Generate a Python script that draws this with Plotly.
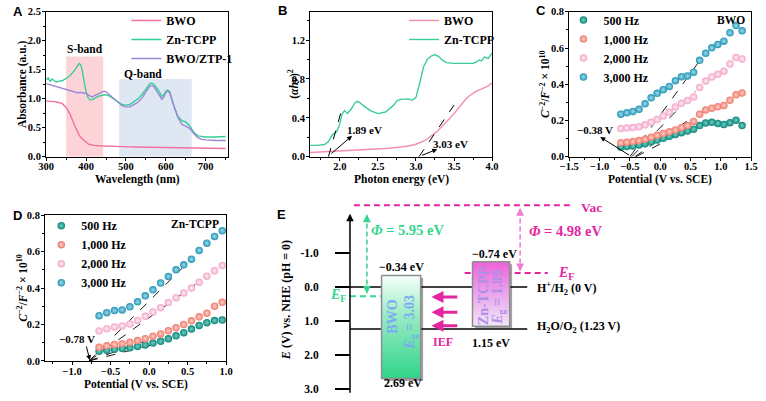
import plotly.graph_objects as go

W, H = 766, 401
SERIF = "Liberation Serif"
SANS = "Liberation Sans"


def px(x):
    return x / W


def py(y):
    return 1 - y / H


# ---------------- Panel A : UV-vis absorbance ----------------
wavelength = [300, 305, 310, 315, 320, 325, 330, 340, 350, 360, 370, 375, 380, 383, 387, 390, 395, 400,
              405, 410, 415, 420, 430, 440, 445, 450, 460, 470, 480, 490, 500, 510, 520, 530, 540, 550,
              560, 565, 570, 580, 590, 595, 600, 605, 610, 620, 630, 640, 650, 660, 670, 680, 690, 700,
              725, 750]
abs_bwo = [0.96, 0.96, 0.95, 0.95, 0.95, 0.945, 0.94, 0.92, 0.85, 0.73, 0.56, 0.48, 0.41, 0.37, 0.33, 0.31,
           0.27, 0.24, 0.22, 0.21, 0.20, 0.195, 0.19, 0.186, 0.184, 0.182, 0.180, 0.178, 0.176, 0.174,
           0.172, 0.170, 0.169, 0.168, 0.167, 0.166, 0.165, 0.164, 0.164, 0.163, 0.162, 0.161, 0.160,
           0.160, 0.159, 0.158, 0.157, 0.156, 0.155, 0.154, 0.152, 0.151, 0.150, 0.149, 0.146, 0.143]
abs_zn_tcpp = [1.33, 1.36, 1.30, 1.34, 1.31, 1.29, 1.30, 1.31, 1.35, 1.40, 1.48, 1.54, 1.60, 1.61, 1.58,
               1.50, 1.30, 1.12, 1.02, 0.98, 0.98, 1.00, 1.04, 1.06, 1.07, 1.07, 1.04, 0.99, 0.94, 0.90,
               0.89, 0.90, 0.95, 1.00, 1.07, 1.17, 1.26, 1.27, 1.25, 1.16, 1.04, 1.07, 1.13, 1.15, 1.12,
               0.88, 0.70, 0.62, 0.60, 0.53, 0.42, 0.36, 0.345, 0.34, 0.34, 0.35]
abs_bwo_ztp1 = [1.26, 1.25, 1.24, 1.23, 1.22, 1.21, 1.20, 1.18, 1.15, 1.13, 1.11, 1.10, 1.10, 1.11, 1.11,
                1.11, 1.10, 1.09, 1.07, 1.04, 1.03, 1.05, 1.08, 1.11, 1.13, 1.12, 1.06, 0.99, 0.93, 0.88,
                0.86, 0.86, 0.90, 0.94, 1.01, 1.12, 1.22, 1.23, 1.21, 1.10, 0.99, 1.03, 1.11, 1.13, 1.10,
                0.88, 0.68, 0.56, 0.52, 0.49, 0.40, 0.33, 0.30, 0.29, 0.28, 0.28]
s_band_range = [350, 443]
s_band_top = 1.73
q_band_range = [483, 665]
q_band_top = 1.34

# ---------------- Panel B : Tauc plot ----------------
tauc_bwo_energy = [1.6, 1.8, 2.0, 2.2, 2.4, 2.6, 2.8, 2.9, 3.0, 3.05, 3.1, 3.15, 3.2, 3.25, 3.3, 3.35, 3.4,
                   3.45, 3.5, 3.55, 3.6, 3.65, 3.7, 3.75, 3.8, 3.85, 3.9, 3.95, 4.0]
tauc_bwo = [0.043, 0.050, 0.058, 0.066, 0.075, 0.085, 0.100, 0.110, 0.128, 0.142, 0.160, 0.185, 0.212,
            0.243, 0.277, 0.315, 0.358, 0.400, 0.443, 0.493, 0.540, 0.588, 0.625, 0.655, 0.677, 0.693,
            0.707, 0.728, 0.760]
tauc_zn_energy = [1.6, 1.7, 1.8, 1.85, 1.9, 1.93, 1.96, 2.0, 2.03, 2.06, 2.1, 2.15, 2.2, 2.23, 2.26, 2.3,
                  2.35, 2.4, 2.5, 2.6, 2.7, 2.75, 2.8, 2.9, 2.95, 3.0, 3.05, 3.1, 3.15, 3.2, 3.25, 3.3,
                  3.35, 3.4, 3.5, 3.6, 3.7, 3.75, 3.8, 3.83, 3.86, 3.9, 3.95, 4.0]
tauc_zn = [0.117, 0.117, 0.125, 0.155, 0.225, 0.245, 0.26, 0.34, 0.44, 0.475, 0.445, 0.49, 0.555, 0.57,
           0.56, 0.53, 0.50, 0.475, 0.443, 0.46, 0.525, 0.575, 0.59, 0.595, 0.58, 0.61, 0.76, 0.925, 1.0,
           1.035, 1.05, 1.03, 0.99, 0.968, 0.96, 0.96, 0.955, 0.96, 0.975, 0.995, 0.985, 1.025, 1.01,
           1.065]
band_gap_zn = 1.89
band_gap_bwo = 3.03
tauc_fit_zn_x = [1.85, 2.03]
tauc_fit_zn_y = [0.0, 0.50]
tauc_fit_bwo_x = [3.04, 3.50]
tauc_fit_bwo_y = [0.0, 0.53]

# ---------------- Panel C : Mott-Schottky, BWO ----------------
frequencies = ["500 Hz", "1,000 Hz", "2,000 Hz", "3,000 Hz"]
ms_potential_bwo = [-0.65, -0.55, -0.45, -0.35, -0.25, -0.15, -0.05, 0.05, 0.15, 0.25, 0.35, 0.45, 0.55,
                    0.65, 0.75, 0.85, 0.95, 1.05, 1.15, 1.25, 1.35]
ms_bwo_500 = [0.052, 0.056, 0.059, 0.065, 0.072, 0.082, 0.092, 0.102, 0.113, 0.123, 0.133, 0.142, 0.152,
              0.172, 0.186, 0.190, 0.184, 0.178, 0.188, 0.202, 0.172]
ms_bwo_1000 = [0.077, 0.080, 0.084, 0.089, 0.097, 0.107, 0.118, 0.128, 0.138, 0.148, 0.160, 0.172, 0.195,
               0.235, 0.258, 0.268, 0.276, 0.283, 0.312, 0.342, 0.352]
ms_bwo_2000 = [0.156, 0.158, 0.161, 0.165, 0.176, 0.190, 0.205, 0.225, 0.245, 0.275, 0.295, 0.310, 0.330,
               0.382, 0.418, 0.440, 0.455, 0.472, 0.512, 0.548, 0.540]
ms_bwo_3000 = [0.235, 0.243, 0.250, 0.262, 0.292, 0.325, 0.350, 0.370, 0.388, 0.420, 0.442, 0.446, 0.467,
               0.532, 0.571, 0.601, 0.620, 0.638, 0.684, 0.724, 0.695]
ms_bwo_fit_x = [[-0.40, 0.45], [-0.42, 0.50], [-0.47, 0.58], [-0.50, 0.65]]
ms_bwo_fit_y = [[0.0, 0.15], [0.0, 0.21], [0.0, 0.36], [0.0, 0.53]]
flat_band_bwo = -0.38

# ---------------- Panel D : Mott-Schottky, Zn-TCPP ----------------
ms_potential_zn = [-0.65, -0.55, -0.45, -0.35, -0.25, -0.15, -0.05, 0.05, 0.15, 0.25, 0.35, 0.45, 0.55,
                   0.65, 0.75, 0.85, 0.95]
ms_zn_500 = [0.053, 0.059, 0.064, 0.068, 0.073, 0.079, 0.088, 0.098, 0.108, 0.122, 0.138, 0.155, 0.175,
             0.195, 0.210, 0.222, 0.224]
ms_zn_1000 = [0.075, 0.083, 0.090, 0.095, 0.102, 0.112, 0.122, 0.135, 0.148, 0.165, 0.182, 0.200, 0.220,
              0.242, 0.262, 0.300, 0.322]
ms_zn_2000 = [0.164, 0.177, 0.186, 0.192, 0.203, 0.222, 0.245, 0.268, 0.292, 0.320, 0.347, 0.372, 0.400,
              0.432, 0.465, 0.495, 0.523]
ms_zn_3000 = [0.248, 0.265, 0.276, 0.280, 0.297, 0.324, 0.357, 0.390, 0.427, 0.463, 0.500, 0.527, 0.558,
              0.606, 0.646, 0.683, 0.714]
ms_zn_fit_x = [[-0.78, 0.10], [-0.78, 0.05], [-0.78, 0.60], [-0.78, 0.55]]
ms_zn_fit_y = [[0.0, 0.095], [0.0, 0.125], [0.0, 0.42], [0.0, 0.56]]
flat_band_zn = -0.78

# ---------------- Panel E : band diagram (energies vs NHE) ----------------
bwo_band_edges = [-0.34, 2.69]      # CB, VB
zn_band_edges = [-0.74, 1.15]       # LUMO, HOMO
redox_levels = [0.0, 1.23]          # H+/H2, H2O/O2
work_functions = [5.95, 4.98]       # BWO, Zn-TCPP
# schematic drawing levels on the energy axis
vac_level = -2.4
fermi_levels_drawn = [0.27, -0.41]  # BWO, Zn-TCPP
ief_levels = [0.29, 0.74, 1.14]
e_ticks = [-1, 0, 1, 2, 3]
e_tick_text = ["-1.0", "0.0", "1.0", "2.0", "3.0"]

# ---------------- styles ----------------
C_BWO = "#f3709f"
C_ZN = "#33cf98"
C_MIX = "#9c86d8"
C_BWO_B = "#f28db0"
C_ZN_B = "#3ccd92"
freq_colors = ["#0f8478", "#ef7b6e", "#f3a6c9", "#2595b3"]
freq_lights = ["#6ed3c3", "#ffd0c8", "#fff0f6", "#9fdcef"]
MAG = "#e4259f"
GRN = "#35d58f"
PINK = "#f17ed5"

fig = go.Figure()

# Panel A
for ys, name, col in [(abs_bwo, "BWO", C_BWO), (abs_zn_tcpp, "Zn-TCPP", C_ZN), (abs_bwo_ztp1, "BWO/ZTP-1", C_MIX)]:
    fig.add_trace(go.Scatter(x=wavelength, y=ys, mode="lines", name=name, line=dict(color=col, width=1.4),
                             xaxis="x", yaxis="y", legend="legend", hoverinfo="skip"))

# Panel B
fig.add_trace(go.Scatter(x=tauc_bwo_energy, y=tauc_bwo, mode="lines", name="BWO",
                         line=dict(color=C_BWO_B, width=1.4), xaxis="x2", yaxis="y2", legend="legend2"))
fig.add_trace(go.Scatter(x=tauc_zn_energy, y=tauc_zn, mode="lines", name="Zn-TCPP",
                         line=dict(color=C_ZN_B, width=1.4), xaxis="x2", yaxis="y2", legend="legend2"))
for fx, fy in [(tauc_fit_zn_x, tauc_fit_zn_y), (tauc_fit_bwo_x, tauc_fit_bwo_y)]:
    fig.add_trace(go.Scatter(x=fx, y=fy, mode="lines", showlegend=False,
                             line=dict(color="black", width=1, dash="dash"), xaxis="x2", yaxis="y2"))

# Panel C
for i, ys in enumerate([ms_bwo_500, ms_bwo_1000, ms_bwo_2000, ms_bwo_3000]):
    fig.add_trace(go.Scatter(x=ms_bwo_fit_x[i], y=ms_bwo_fit_y[i], mode="lines", showlegend=False,
                             line=dict(color="black", width=0.9, dash="dash"), xaxis="x3", yaxis="y3"))
for i, ys in enumerate([ms_bwo_500, ms_bwo_1000, ms_bwo_2000, ms_bwo_3000]):
    fig.add_trace(go.Scatter(x=ms_potential_bwo, y=ys, mode="markers", name=frequencies[i],
                             marker=dict(size=7.5, color=freq_colors[i], line=dict(width=0),
                                         gradient=dict(type="radial", color=freq_lights[i])),
                             xaxis="x3", yaxis="y3", legend="legend3"))

# Panel D
for i, ys in enumerate([ms_zn_500, ms_zn_1000, ms_zn_2000, ms_zn_3000]):
    fig.add_trace(go.Scatter(x=ms_zn_fit_x[i], y=ms_zn_fit_y[i], mode="lines", showlegend=False,
                             line=dict(color="black", width=0.9, dash="dash"), xaxis="x4", yaxis="y4"))
for i, ys in enumerate([ms_zn_500, ms_zn_1000, ms_zn_2000, ms_zn_3000]):
    fig.add_trace(go.Scatter(x=ms_potential_zn, y=ys, mode="markers", name=frequencies[i],
                             marker=dict(size=7.5, color=freq_colors[i], line=dict(width=0),
                                         gradient=dict(type="radial", color=freq_lights[i])),
                             xaxis="x4", yaxis="y4", legend="legend4"))

# Panel E boxes
E_X = dict(axis=347.7, tick_l=333, bwo0=380, bwo1=420, zn0=473, zn1=511, line_end=529)
bc, bv = bwo_band_edges
zc, zv = zn_band_edges
fig.add_trace(go.Scatter(x=[E_X["bwo0"], E_X["bwo1"], E_X["bwo1"], E_X["bwo0"], E_X["bwo0"]],
                         y=[bc, bc, bv, bv, bc], mode="lines", fill="toself", showlegend=False,
                         fillgradient=dict(type="vertical", start=bc, stop=bv,
                                           colorscale=[[0, "#f2fff8"], [0.35, "#9cebc4"], [1, "#27d386"]]),
                         line=dict(color="#8d8d8d", width=1.5), xaxis="x5", yaxis="y5", hoverinfo="skip"))
fig.add_trace(go.Scatter(x=[E_X["zn0"], E_X["zn1"], E_X["zn1"], E_X["zn0"], E_X["zn0"]],
                         y=[zc, zc, zv, zv, zc], mode="lines", fill="toself", showlegend=False,
                         fillgradient=dict(type="vertical", start=zc, stop=zv,
                                           colorscale=[[0, "#ee66d9"], [0.45, "#eaa3ec"], [1, "#f4eff9"]]),
                         line=dict(color="#8d8d8d", width=1.5), xaxis="x5", yaxis="y5", hoverinfo="skip"))

shapes = []
# A shaded bands
shapes.append(dict(type="rect", xref="x", yref="y", x0=s_band_range[0], x1=s_band_range[1], y0=0,
                   y1=s_band_top, fillcolor="#fcd4d7", line=dict(width=0), layer="below"))
shapes.append(dict(type="rect", xref="x", yref="y", x0=q_band_range[0], x1=q_band_range[1], y0=0,
                   y1=q_band_top, fillcolor="#dfe7f3", line=dict(width=0), layer="below"))


# E shapes
def eline(x0, x1, y0, y1, color="black", width=1.5, dash=None, layer="below"):
    d = dict(type="line", xref="x5", yref="y5", x0=x0, x1=x1, y0=y0, y1=y1,
             line=dict(color=color, width=width), layer=layer)
    if dash:
        d["line"]["dash"] = dash
    return d


shapes.append(dict(type="rect", xref="x5", yref="y5", x0=E_X["bwo0"] + 2.5, x1=E_X["bwo1"] + 2.5,
                   y0=bc + 0.07, y1=bv + 0.07, fillcolor="#a3a3a3", line=dict(width=0), layer="below"))
shapes.append(dict(type="rect", xref="x5", yref="y5", x0=E_X["zn0"] + 2.5, x1=E_X["zn1"] + 2.5,
                   y0=zc + 0.07, y1=zv + 0.07, fillcolor="#a3a3a3", line=dict(width=0), layer="below"))
shapes.append(eline(E_X["tick_l"], E_X["line_end"], redox_levels[0], redox_levels[0]))
shapes.append(eline(E_X["axis"], E_X["line_end"], redox_levels[1], redox_levels[1]))
shapes.append(eline(351.7, 576.7, vac_level, vac_level, MAG, 2, "6px,4px"))
shapes.append(eline(E_X["axis"], 422, fermi_levels_drawn[0], fermi_levels_drawn[0], GRN, 2, "6px,4px"))
shapes.append(eline(465, 550, fermi_levels_drawn[1], fermi_levels_drawn[1], MAG, 2, "6px,4px"))
shapes.append(eline(365, 365, vac_level + 0.3, fermi_levels_drawn[0] - 0.1, GRN, 1.6, "5px,3px", "above"))
shapes.append(eline(521.7, 521.7, vac_level + 0.15, fermi_levels_drawn[1] - 0.08, PINK, 1.6, "5px,3px", "above"))

ann = []


def text(t, x, y, size=11, color="black", family=SERIF, angle=0, xanchor="center", yanchor="middle",
         xref="paper", yref="paper", weight="bold"):
    ann.append(dict(text=t, x=x, y=y, xref=xref, yref=yref, showarrow=False, textangle=angle,
                    xanchor=xanchor, yanchor=yanchor,
                    font=dict(family=family, size=size, color=color, weight=weight)))


def arrow(x, y, ax, ay, xr, yr, color="black", width=1.0, head=2, size=1.0):
    ann.append(dict(text="", x=x, y=y, ax=ax, ay=ay, xref=xr, yref=yr, axref=xr, ayref=yr,
                    showarrow=True, arrowhead=head, arrowsize=size, arrowwidth=width, arrowcolor=color,
                    font=dict(size=10)))


# Panel letters
text("A", px(1), py(7), 13, family=SANS, xanchor="left")
text("B", px(272), py(6), 13, family=SANS, xanchor="left")
text("C", px(536), py(6), 13, family=SANS, xanchor="left")
text("D", px(1), py(216), 13, family=SANS, xanchor="left")
text("E", px(271), py(215), 13, family=SANS, xanchor="left")

# Axis titles
text("Absorbance (a.u.)", px(13), py(81.5), 11.5, angle=-90)
text("Wavelength (nm)", px(130), py(179), 11.5)
text("(<i>αhν</i>)<sup>2</sup>", px(290), py(81.5), 11.5, angle=-90)
text("Photon energy (eV)", px(400), py(179), 11.5)
text("<i>C</i><sup>−2</sup>/<i>F</i><sup>−2</sup> × 10<sup>10</sup>", px(547), py(81.5), 11.5, angle=-90)
text("Potential (V vs. SCE)", px(665), py(179), 11.5)
text("<i>C</i><sup>−2</sup>/<i>F</i><sup>−2</sup> × 10<sup>10</sup>", px(12), py(291), 11.5, angle=-90)
text("Potential (V vs. SCE)", px(128.5), py(390), 11.5)

# Panel A labels
text("S-band", sum(s_band_range) / 2 + 2, s_band_top + 0.12, 11.5, xref="x", yref="y")
text("Q-band", 544, q_band_top + 0.08, 11.5, xref="x", yref="y")

# Panel B annotations
text(f"{band_gap_zn:.2f} eV", 2.33, 0.27, 11, xref="x2", yref="y2")
arrow(2.16, 0.215, 1.87, 0.02, "x2", "y2")
text(f"{band_gap_bwo:.2f} eV", 3.46, 0.135, 11, xref="x2", yref="y2")
arrow(3.28, 0.078, 3.06, 0.008, "x2", "y2")

# Panel C / D annotations
text("BWO", px(754), py(15), 11.5, xanchor="right")
text(f"−{abs(flat_band_bwo):.2f} V", -1.08, 0.15, 11, xref="x3", yref="y3")
arrow(-0.99, 0.109, -0.49, 0.004, "x3", "y3")
text("Zn-TCPP", px(216), py(225), 11.5, xanchor="right")
text(f"−{abs(flat_band_zn):.2f} V", -0.94, 0.12, 11, xref="x4", yref="y4")
arrow(-0.77, 0.004, -0.82, 0.088, "x4", "y4")

# Panel E texts
text("<i>E</i> (V) vs. NHE (pH = 0)", px(281.7), py(303), 12, angle=-90)
arrow(E_X["axis"], -2.15, E_X["axis"], 3.15, "x5", "y5", width=1.5, size=1.0)
text("BWO", 391, 0.86, 14, color="#78abf2", angle=-90, xref="x5", yref="y5")
text(f"<i>E</i><sub>g</sub> = {band_gap_bwo:.2f}", 410, 1.02, 14, color="#78abf2", angle=-90,
     xref="x5", yref="y5")
text("Zn-TCPP", 485, 0.26, 14, color="#ad8fe8", angle=-90, xref="x5", yref="y5")
text(f"<i>E</i><sub>g</sub> = {band_gap_zn:.2f}", 500, 0.29, 14, color="#ad8fe8", angle=-90,
     xref="x5", yref="y5")
text(f"−{abs(bc):.2f} eV", 400, bc - 0.25, 12, xref="x5", yref="y5")
text(f"{bv:.2f} eV", 401.7, bv + 0.12, 12, xref="x5", yref="y5")
text(f"−{abs(zc):.2f} eV", 495, zc - 0.23, 12, xref="x5", yref="y5")
text(f"{zv:.2f} eV", 491.7, zv + 0.5, 12, xref="x5", yref="y5")
text("H<sup>+</sup>/H<sub>2</sub> (0 V)", 537, redox_levels[0] + 0.05, 12, xanchor="left",
     xref="x5", yref="y5")
text(f"H<sub>2</sub>O/O<sub>2</sub> ({redox_levels[1]:.2f} V)", 537, redox_levels[1] - 0.07, 12,
     xanchor="left", xref="x5", yref="y5")
text("Vac", 582, vac_level + 0.05, 13.5, color=MAG, xanchor="left", xref="x5", yref="y5")
text(f"<i>Φ</i> = {work_functions[1]:.2f} eV", 568, -1.65, 14.5, color=MAG, xref="x5", yref="y5")
text(f"<i>Φ</i> = {work_functions[0]:.2f} eV", 407, -1.69, 14.5, color=GRN, xref="x5", yref="y5")
text("<i>E</i><sub>F</sub>", 335, fermi_levels_drawn[0] - 0.02, 14, color=GRN, xref="x5", yref="y5")
text("<i>E</i><sub>F</sub>", 569, fermi_levels_drawn[1] + 0.02, 14, color=MAG, xref="x5", yref="y5")
text("IEF", 443, 1.62, 12, color=MAG, xref="x5", yref="y5")
for lv in ief_levels:
    arrow(431, lv, 459, lv, "x5", "y5", color=MAG, width=3, head=2, size=0.8)
# dashed double arrows: heads
arrow(365, vac_level + 0.26, 365, vac_level + 0.5, "x5", "y5", color=GRN, width=1.6, size=1)
arrow(365, fermi_levels_drawn[0] - 0.07, 365, fermi_levels_drawn[0] - 0.3, "x5", "y5", color=GRN, width=1.6, size=1)
arrow(521.7, vac_level + 0.07, 521.7, vac_level + 0.3, "x5", "y5", color=PINK, width=1.6, size=1)
arrow(521.7, fermi_levels_drawn[1] - 0.05, 521.7, fermi_levels_drawn[1] - 0.28, "x5", "y5", color=PINK, width=1.6, size=1)

tickfont = dict(family=SERIF, size=10.5, color="black", weight="bold")


def ax_style(domain, rng, dtick, minor, fmt=".1f", anchor=None, standoff=0):
    d = dict(domain=domain, range=rng, dtick=dtick, tick0=0, tickformat=fmt, showline=True, linecolor="black",
             linewidth=1.3, mirror=True, ticks="outside", ticklen=3, tickwidth=1.2, tickcolor="black",
             showgrid=False, zeroline=False, tickfont=tickfont, fixedrange=True, ticklabelstandoff=standoff,
             minor=dict(dtick=minor, ticks="outside", ticklen=2, tickcolor="black", tickwidth=1, showgrid=False))
    if anchor:
        d["anchor"] = anchor
    return d


legend_font = dict(family=SERIF, size=12, color="black", weight="bold")


def legend_at(x, y):
    return dict(x=px(x), y=py(y), xanchor="left", yanchor="top", bgcolor="rgba(0,0,0,0)",
                font=legend_font, tracegroupgap=0, borderwidth=0)


fig.update_layout(
    width=W, height=H, margin=dict(l=0, r=0, t=0, b=0),
    paper_bgcolor="white", plot_bgcolor="white",
    font=dict(family=SERIF, color="black"),
    xaxis=ax_style([px(37), px(223)], [300, 756], 100, 50, "d", "y", -3),
    yaxis=ax_style([py(156), py(7)], [0, 2.5], 0.5, 0.25, ".1f", "x", -1),
    xaxis2=ax_style([px(307), px(493)], [1.61, 4.0], 0.5, 0.25, ".1f", "y2", -3),
    yaxis2=ax_style([py(156), py(7)], [0, 1.49], 0.4, 0.2, ".1f", "x2", -1),
    xaxis3=ax_style([px(572), px(758)], [-1.5, 1.5], 0.5, 0.25, ".1f", "y3", -3),
    yaxis3=ax_style([py(156), py(7)], [0, 0.8], 0.2, 0.1, ".1f", "x3", -1),
    xaxis4=ax_style([px(36), px(221)], [-1.35, 1.0], 0.5, 0.25, ".1f", "y4", -3),
    yaxis4=ax_style([py(366), py(216)], [0, 0.8], 0.2, 0.1, ".1f", "x4", -1),
    xaxis5=dict(domain=[px(250), 1], range=[250, 766], visible=False, fixedrange=True, anchor="y5"),
    yaxis5=dict(domain=[py(400.25), py(202.5)], range=[3.15, -2.5], anchor="free", position=px(E_X["axis"]),
                showline=False, showgrid=False, zeroline=False, ticks="outside", ticklen=15, tickwidth=2,
                tickcolor="black", tickvals=e_ticks, ticktext=e_tick_text, ticklabelstandoff=14,
                tickfont=dict(family=SERIF, size=11.5, color="black", weight="bold"), fixedrange=True),
    legend=legend_at(119, 1),
    legend2=legend_at(403, 1),
    legend3=legend_at(566, 0.5),
    legend4=legend_at(32, 212),
    shapes=shapes,
    annotations=ann,
    showlegend=True,
)

fig.write_html("out.html")
